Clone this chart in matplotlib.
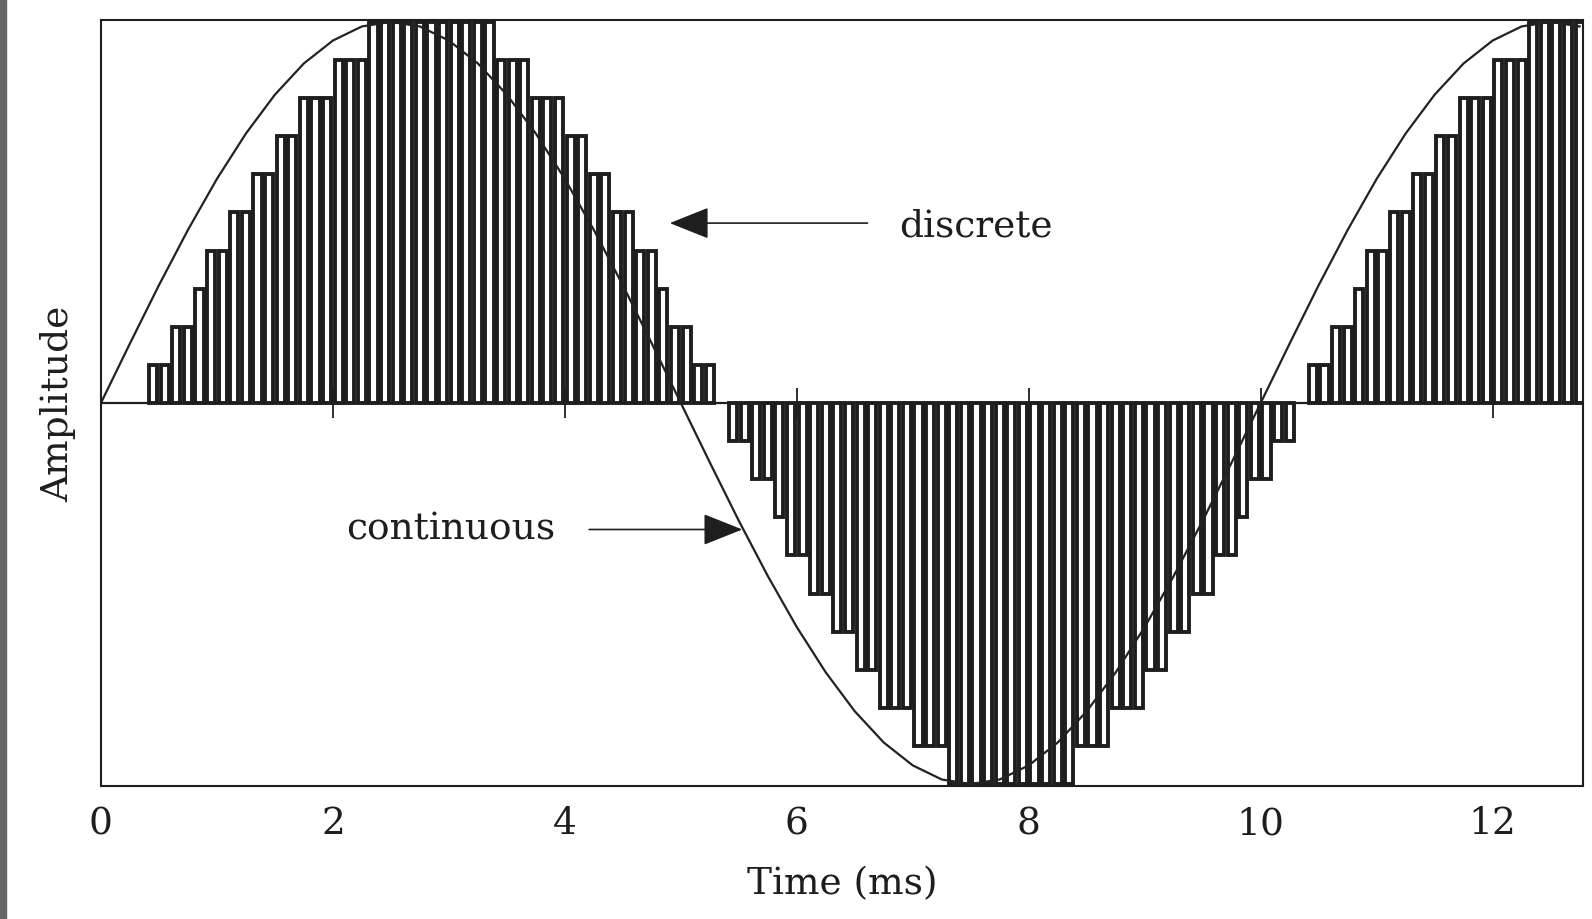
import numpy as np
import matplotlib.pyplot as plt
from matplotlib.patches import Rectangle

# discrete signal: one quantised level per sample, sample period 0.1 ms (0.0 .. 12.7 ms)
dt = 0.1
levels = [0, 0, 0,
          0, 1, 1, 2, 2, 3, 4, 4, 5, 5, 6, 6, 7, 7, 8, 8, 8, 9, 9, 9,
          10, 10, 10, 10, 10, 10, 10, 10, 10, 10, 10,
          9, 9, 9, 8, 8, 8, 7, 7, 6, 6, 5, 5, 4, 4, 3, 2, 2, 1, 1, 0,
          -1, -1, -2, -2, -3, -4, -4, -5, -5, -6, -6, -7, -7, -8, -8, -8, -9, -9, -9,
          -10, -10, -10, -10, -10, -10, -10, -10, -10, -10, -10,
          -9, -9, -9, -8, -8, -8, -7, -7, -6, -6, -5, -5, -4, -4, -3, -2, -2, -1, -1, 0,
          1, 1, 2, 2, 3, 4, 4, 5, 5, 6, 6, 7, 7, 8, 8, 8, 9, 9, 9,
          10, 10, 10, 10, 10]

# continuous signal, read every 0.25 ms (0.0 .. 12.75 ms)
curve_dt = 0.25
curve_amp = [0.0, 1.56, 3.09, 4.54, 5.88, 7.07, 8.09, 8.91, 9.51, 9.88,
             10.0, 9.88, 9.51, 8.91, 8.09, 7.07, 5.88, 4.54, 3.09, 1.56,
             0.0, -1.56, -3.09, -4.54, -5.88, -7.07, -8.09, -8.91, -9.51, -9.88,
             -10.0, -9.88, -9.51, -8.91, -8.09, -7.07, -5.88, -4.54, -3.09, -1.56,
             0.0, 1.56, 3.09, 4.54, 5.88, 7.07, 8.09, 8.91, 9.51, 9.88,
             10.0, 9.88]

xticks = [0, 2, 4, 6, 8, 10, 12]
xlabel = 'Time (ms)'
ylabel = 'Amplitude'

ink = '#1e1e1e'
serif = 'DejaVu Serif'

lv = np.array(levels)
t_bar = np.arange(len(lv)) * dt + dt / 2
nz = lv != 0
t_curve = np.arange(len(curve_amp)) * curve_dt

fig = plt.figure(figsize=(15.92, 9.2), dpi=100)
ax = fig.add_axes([0.0634, 0.1446, 0.931, 0.8326])

# sample bars: white inside, heavy black outline
ax.bar(t_bar[nz], lv[nz], width=0.07, color='white', edgecolor=ink,
       linewidth=2.8, zorder=2)
ax.plot(t_curve, curve_amp, color='#222222', lw=1.6, zorder=3)
ax.axhline(0, color=ink, lw=1.6, zorder=1)

ax.set_xlim(0, 12.78)
ax.set_ylim(-10.05, 10.05)
ax.set_yticks([])
ax.set_xticks(xticks)
ax.tick_params(axis='x', length=0, pad=14, labelsize=27, colors=ink)
for lab in ax.get_xticklabels():
    lab.set_family(serif)
for sp in ax.spines.values():
    sp.set_linewidth(1.5)
    sp.set_color(ink)

# tick marks sit on the zero line
sec = ax.secondary_xaxis(0, transform=ax.transData)
sec.set_xticks(xticks)
sec.tick_params(direction='inout', length=22, width=1.3, color=ink, labelbottom=False)
sec.spines['bottom'].set_visible(False)

ax.set_xlabel(xlabel, fontsize=27, family=serif, color=ink, labelpad=17)
ax.set_ylabel(ylabel, fontsize=27, family=serif, color=ink, labelpad=18)

arrow = dict(arrowstyle='-|>,head_length=0.5,head_width=0.2', mutation_scale=50,
             color=ink, lw=1.2, shrinkA=0, shrinkB=0)
ax.annotate('', xy=(4.905, 4.72), xytext=(6.61, 4.72), arrowprops=arrow, zorder=4)
ax.text(6.88, 4.39, 'discrete', ha='left', va='baseline', fontsize=27,
        family=serif, color=ink)
ax.annotate('', xy=(5.53, -3.32), xytext=(4.21, -3.32), arrowprops=arrow, zorder=4)
ax.text(3.92, -3.55, 'continuous', ha='right', va='baseline', fontsize=27,
        family=serif, color=ink)

# grey scan edge on the left
fig.patches.append(Rectangle((0, 0), 0.004, 1, transform=fig.transFigure,
                             color='#666666', zorder=0))

fig.savefig('out.png', dpi=100)
